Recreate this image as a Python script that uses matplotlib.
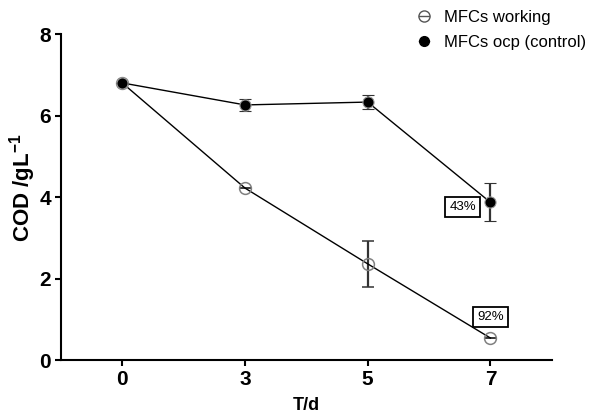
import matplotlib.pyplot as plt
from matplotlib.lines import Line2D
import numpy as np

plt.rcParams['font.family'] = ['Liberation Sans', 'DejaVu Sans']
plt.rcParams['mathtext.fontset'] = 'custom'
plt.rcParams['mathtext.rm'] = 'Liberation Sans'
plt.rcParams['mathtext.bf'] = 'Liberation Sans:bold'

days = ["0", "3", "5", "7"]
working = [6.8, 4.22, 2.36, 0.54]
working_err = [0.0, 0.0, 0.56, 0.0]
control = [6.8, 6.26, 6.33, 3.87]
control_err = [0.0, 0.15, 0.18, 0.47]
removal_labels = ["92%", "43%"]

xpos = np.arange(len(days))

fig = plt.figure(figsize=(6.03, 4.15), dpi=100)
ax = fig.add_axes([0.101, 0.1325, 0.814, 0.7855])

ax.errorbar(xpos, working, yerr=working_err, color="black", lw=1.0,
            marker="o", ms=8.5, mfc="none", mec="#808080", mew=1.1,
            ecolor="#333333", elinewidth=1.6, capsize=4.3, capthick=1.6,
            zorder=3)
ax.errorbar(xpos, control, yerr=control_err, color="black", lw=1.0,
            marker="o", ms=8, mfc="black", mec="#999999", mew=0.8,
            ecolor="#333333", elinewidth=1.6, capsize=4.3, capthick=1.6,
            zorder=4)

box = dict(boxstyle="square,pad=0.3", fc="white", ec="black", lw=1.3)
ax.annotate(removal_labels[0], (xpos[3], working[3]), xytext=(0, 15),
            textcoords="offset points", ha="center", va="center",
            fontsize=9.5, bbox=box, zorder=5)
ax.annotate(removal_labels[1], (xpos[3], control[3]), xytext=(-20, -3.6),
            textcoords="offset points", ha="center", va="center",
            fontsize=9.5, bbox=box, zorder=5)

ax.set_xlim(-0.5, 3.5)
ax.set_ylim(0, 8)
ax.set_xticks(xpos)
ax.set_xticklabels(days)
ax.set_yticks([0, 2, 4, 6, 8])
for s in ["top", "right"]:
    ax.spines[s].set_visible(False)
for s in ["left", "bottom"]:
    ax.spines[s].set_linewidth(1.5)
ax.tick_params(width=1.5, length=4, labelsize=15, pad=3)
for lab in ax.get_xticklabels() + ax.get_yticklabels():
    lab.set_fontweight("bold")

ax.set_ylabel("COD /gL$^{\\mathbf{-1}}$", fontsize=16, fontweight="bold")
ax.yaxis.set_label_coords(-0.047, 0.53)
ax.set_xlabel("T/d", fontsize=13, fontweight="bold", labelpad=6)

handles = [
    Line2D([], [], color="#555555", lw=1.0, marker="o", ms=8,
           mfc="none", mec="#555555", mew=1.0),
    Line2D([], [], color="black", lw=1.0, marker="o", ms=7,
           mfc="black", mec="black"),
]
fig.legend(handles, ["MFCs working", "MFCs ocp (control)"], loc="upper left",
           bbox_to_anchor=(414 / 603, 0.988), frameon=False, fontsize=12,
           handlelength=0.6, handletextpad=0.9, labelspacing=0.6,
           borderaxespad=0.0, borderpad=0.3)

fig.savefig("out.png", dpi=100)
